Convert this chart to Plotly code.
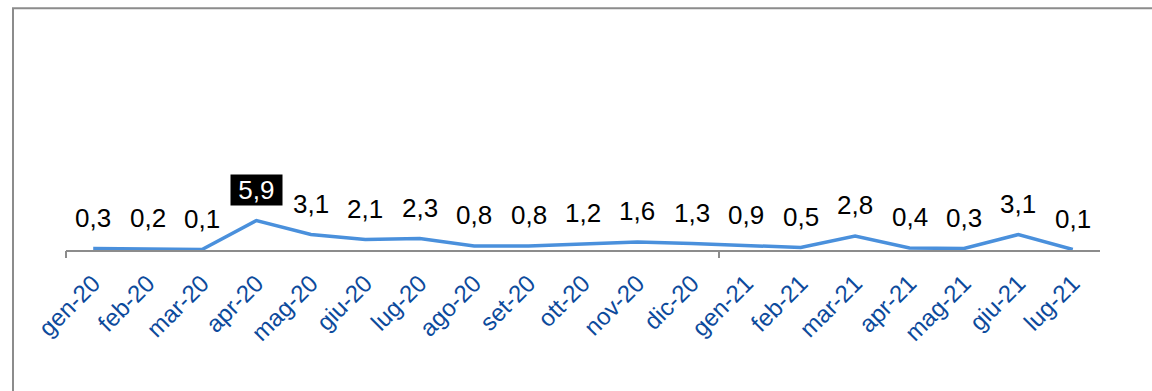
import plotly.graph_objects as go

# Monthly series, Jan 2020 – Jul 2021
months = ["gen-20", "feb-20", "mar-20", "apr-20", "mag-20", "giu-20", "lug-20",
          "ago-20", "set-20", "ott-20", "nov-20", "dic-20", "gen-21", "feb-21",
          "mar-21", "apr-21", "mag-21", "giu-21", "lug-21"]
values = [0.3, 0.2, 0.1, 5.9, 3.1, 2.1, 2.3, 0.8, 0.8, 1.2, 1.6, 1.3,
          0.9, 0.5, 2.8, 0.4, 0.3, 3.1, 0.1]

W, H = 1152, 391
M_L, M_R, M_T, M_B = 66, 52, 20, 141
Y_MAX = 46

LINE_COLOR = "#4A90DC"
AXIS_COLOR = "#8C8C8C"
TICK_TEXT = "#0C4A9C"
FONT = "Liberation Sans, Arial, sans-serif"

# year boundaries (before each January) get a tick mark
year_edges = [i - 0.5 for i, m in enumerate(months) if m.startswith("gen")]
peak = values.index(max(values))

fig = go.Figure()
fig.add_trace(go.Scatter(
    x=months, y=values, mode="lines",
    line=dict(color=LINE_COLOR, width=3.5),
    hoverinfo="x+y",
))
# carrier trace so the overlaid tick axis is rendered
fig.add_trace(go.Scatter(
    x=year_edges, y=[0] * len(year_edges), xaxis="x2", mode="lines",
    line=dict(width=0), opacity=0, hoverinfo="skip",
))

annotations = []
for i, (m, v) in enumerate(zip(months, values)):
    label = f"{v:.1f}".replace(".", ",")
    hl = i == peak
    annotations.append(dict(
        x=m, y=v, xref="x", yref="y",
        text=("\u00a0" + label + "\u00a0") if hl else label,
        showarrow=False, yshift=31, yanchor="middle",
        font=dict(family=FONT, size=26, color="white" if hl else "black"),
        bgcolor="black" if hl else None,
        borderpad=0,
    ))

# outer frame of the chart area
px_x = lambda p: (p - M_L) / (W - M_L - M_R)
px_y = lambda p: (H - M_B - p) / (H - M_T - M_B)
shapes = [dict(
    type="rect", xref="paper", yref="paper",
    x0=px_x(13), x1=px_x(W + 20), y0=px_y(H + 20), y1=px_y(8.3),
    line=dict(color=AXIS_COLOR, width=2), fillcolor="rgba(0,0,0,0)",
    layer="below",
)]

fig.update_layout(
    width=W, height=H,
    margin=dict(l=M_L, r=M_R, t=M_T, b=M_B, pad=0),
    paper_bgcolor="white", plot_bgcolor="white",
    showlegend=False,
    font=dict(family=FONT),
    annotations=annotations,
    shapes=shapes,
    xaxis=dict(
        type="category", range=[-0.5, len(months) - 0.5],
        showline=True, linecolor=AXIS_COLOR, linewidth=1.5,
        showgrid=False, zeroline=False, ticks="",
        tickangle=-45, tickfont=dict(family=FONT, size=24, color=TICK_TEXT),
        ticklabelstandoff=8,
        fixedrange=True,
    ),
    xaxis2=dict(
        overlaying="x", anchor="y", type="linear",
        range=[-0.5, len(months) - 0.5],
        tickmode="array", tickvals=year_edges,
        ticks="outside", ticklen=7, tickwidth=1.5, tickcolor=AXIS_COLOR,
        showticklabels=False, showgrid=False, showline=False, zeroline=False,
        side="bottom", fixedrange=True,
    ),
    yaxis=dict(range=[0, Y_MAX], visible=False, fixedrange=True),
)

fig.write_html("out.html")
